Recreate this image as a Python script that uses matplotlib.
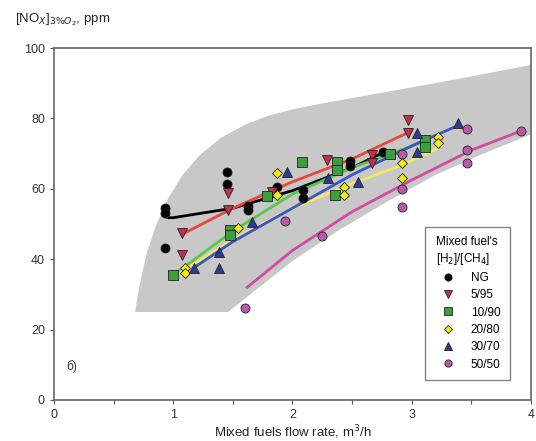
import numpy as np
import matplotlib
matplotlib.use('Agg')
import matplotlib.pyplot as plt

plt.rcParams['font.family'] = ['Liberation Sans', 'DejaVu Sans']

# measured points, one pair of lists per mixture
ng_x = [0.93, 0.93, 0.93, 1.45, 1.45, 1.63, 1.63, 1.87, 2.09, 2.09, 2.48, 2.48, 2.76]
ng_y = [54.5, 53.0, 43.2, 64.8, 61.5, 55.0, 54.0, 60.5, 59.7, 57.4, 68.0, 66.5, 70.5]
h5_x = [1.07, 1.07, 1.46, 1.46, 1.83, 2.29, 2.67, 2.67, 2.97, 2.97]
h5_y = [47.4, 41.2, 58.8, 54.0, 59.0, 68.2, 69.6, 67.3, 79.5, 76.0]
h10_x = [1.0, 1.48, 1.48, 1.79, 2.08, 2.37, 2.37, 2.36, 2.82, 3.11, 3.11]
h10_y = [35.5, 48.3, 47.0, 58.0, 67.6, 67.6, 65.3, 58.2, 70.0, 73.9, 72.0]
h20_x = [1.1, 1.1, 1.54, 1.87, 1.87, 2.43, 2.43, 2.92, 2.92, 3.22, 3.22]
h20_y = [37.5, 36.0, 49.0, 64.5, 58.2, 60.5, 58.2, 67.3, 63.0, 74.7, 73.0]
h30_x = [1.17, 1.38, 1.38, 1.66, 1.95, 2.3, 2.55, 3.04, 3.04, 3.39]
h30_y = [37.5, 42.0, 37.5, 50.6, 64.8, 63.0, 62.0, 75.8, 70.5, 78.7]
h50_x = [1.6, 1.94, 2.25, 2.92, 2.92, 2.92, 3.46, 3.46, 3.46, 3.92]
h50_y = [26.0, 51.0, 46.5, 69.8, 60.0, 54.7, 77.0, 71.0, 67.3, 76.5]

# trend curves
ng_fit_x = [0.93, 0.95, 1.0, 1.5, 2.0, 2.5, 2.76]
ng_fit_y = [54.0, 51.8, 51.8, 54.5, 59.5, 66.0, 70.3]
h5_fit_x = [1.07, 1.5, 2.0, 2.5, 2.97]
h5_fit_y = [47.0, 54.5, 62.0, 68.5, 76.0]
h10_fit_x = [1.0, 1.5, 2.0, 2.5, 3.11]
h10_fit_y = [35.5, 48.0, 58.5, 66.0, 73.5]
h20_fit_x = [1.05, 1.5, 2.0, 2.5, 2.9, 3.22]
h20_fit_y = [36.0, 45.5, 54.5, 61.5, 66.5, 71.5]
h30_fit_x = [1.17, 1.5, 2.0, 2.5, 3.05, 3.39]
h30_fit_y = [37.5, 45.0, 54.5, 64.0, 73.0, 78.0]
h50_fit_x = [1.62, 2.0, 2.5, 3.0, 3.5, 3.92]
h50_fit_y = [32.0, 42.5, 53.5, 62.5, 71.0, 76.5]

# grey band outline
band_x = [0.68, 0.72, 0.78, 0.86, 0.96, 1.08, 1.22, 1.4, 1.62, 1.8, 2.0, 2.3, 2.8, 3.4, 4.0,
          4.0, 3.6, 3.2, 2.8, 2.4, 2.0, 1.7, 1.46]
band_y = [25, 33, 42, 50, 57.5, 64, 69.5, 74.5, 78.5, 80.8, 82.6, 84.6, 87.6, 91.3, 95.2,
          75.5, 70, 64, 56.5, 48.5, 39.5, 31.5, 25]

labels = ['NG', '5/95', '10/90', '20/80', '30/70', '50/50']

series = [
    (ng_x, ng_y, ng_fit_x, ng_fit_y, 'o', 'black', 'black'),
    (h5_x, h5_y, h5_fit_x, h5_fit_y, 'v', '#c2304e', '#e8483c'),
    (h10_x, h10_y, h10_fit_x, h10_fit_y, 's', '#3c9e3c', '#58c848'),
    (h20_x, h20_y, h20_fit_x, h20_fit_y, 'D', '#f2ea1c', '#f2e864'),
    (h30_x, h30_y, h30_fit_x, h30_fit_y, '^', '#2e3c96', '#3a58c0'),
    (h50_x, h50_y, h50_fit_x, h50_fit_y, 'o', '#b85aa8', '#d04c9c'),
]

fig = plt.figure(figsize=(5.36, 4.41), dpi=100)
ax = fig.add_axes([0.1007, 0.093, 0.89, 0.798])

ax.fill(band_x, band_y, color='#c8c8c8', lw=0, zorder=1)

for (x, y, fx, fy, m, mc, lc), lab in zip(series, labels):
    ax.plot(fx, fy, color=lc, lw=2, zorder=2)
    ms = 5.5 if m == 'D' else 6.5
    ax.plot(x, y, ls='none', marker=m, ms=ms, mfc=mc, mec='#222222', mew=0.6,
            zorder=3, label=lab)

ax.set_xlim(0, 4)
ax.set_ylim(0, 100)
ax.set_xticks([0, 1, 2, 3, 4])
ax.set_xticks([0.5, 1.5, 2.5, 3.5], minor=True)
ax.set_yticks([0, 20, 40, 60, 80, 100])
ax.tick_params(which='both', direction='out', length=3, width=0.8,
               colors='#555555', labelcolor='#333333', labelsize=9)
for s in ax.spines.values():
    s.set_color('#666666')
    s.set_linewidth(1.2)

ax.set_xlabel(r'Mixed fuels flow rate, m$^3$/h', fontsize=9.5, color='#222222', labelpad=2)
fig.text(0.028, 0.955, r'[NO$_X$]$_{3\%O_2}$, ppm', fontsize=9.5, color='#222222',
         va='center', ha='left')
ax.text(0.1, 8.5, 'б)', fontsize=8.5, color='#333333')

leg = ax.legend(title="Mixed fuel's\n[H$_2$]/[CH$_4$]", loc='lower right',
                bbox_to_anchor=(0.968, 0.04), fontsize=8.5, title_fontsize=8.5,
                frameon=True, fancybox=False, handletextpad=0.7, markerscale=0.8,
                borderpad=0.8, labelspacing=0.45, handlelength=2.4)
leg.get_frame().set_edgecolor('#666666')
leg.get_frame().set_linewidth(1.0)

fig.savefig('out.png', dpi=100)
